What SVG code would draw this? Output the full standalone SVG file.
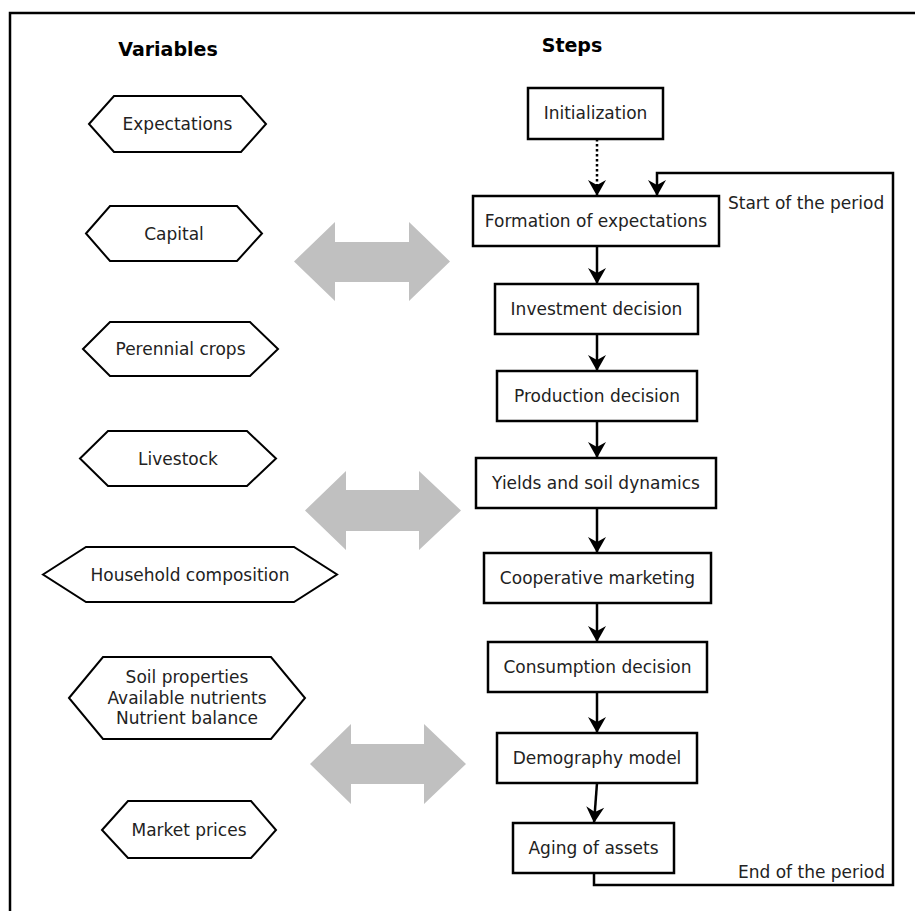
<svg xmlns="http://www.w3.org/2000/svg" width="915" height="911" viewBox="0 0 915 911">
<style>
  .hex { fill: #fff; stroke: #000; stroke-width: 2; }
  .box { fill: #fff; stroke: #000; stroke-width: 2.5; }
  .t { font-family: "DejaVu Sans", "Liberation Sans", sans-serif; font-size: 17px; fill: #222; text-anchor: middle; }
  .tl { font-family: "DejaVu Sans", "Liberation Sans", sans-serif; font-size: 17px; fill: #222; }
  .h { font-family: "DejaVu Sans", "Liberation Sans", sans-serif; font-size: 19px; font-weight: bold; fill: #000; text-anchor: middle; }
  .con { fill: none; stroke: #000; stroke-width: 2.5; }
  .big { fill: #c0c0c0; }
</style>
<defs>
  <marker id="ah" markerUnits="userSpaceOnUse" markerWidth="20" markerHeight="20" viewBox="-17 -10 18 20" refX="0" refY="0" orient="auto" overflow="visible">
    <path d="M0,0 L-16,-9 L-11,0 L-16,9 Z" fill="#000"/>
  </marker>
</defs>
<rect width="915" height="911" fill="#fff"/>
<path d="M10,911 V13 H915" fill="none" stroke="#000" stroke-width="2.5"/>

<g id="headings">
  <text class="h" x="168" y="56">Variables</text>
  <text class="h" x="572" y="52">Steps</text>
</g>

<g id="var-expectations">
  <polygon class="hex" points="89,124 114,96 241,96 266,124 241,152 114,152"/>
  <text class="t" x="177.5" y="130">Expectations</text>
</g>
<g id="var-capital">
  <polygon class="hex" points="86,233.5 110,206 237,206 262,233.5 237,261 110,261"/>
  <text class="t" x="174" y="239.5">Capital</text>
</g>
<g id="var-perennial">
  <polygon class="hex" points="83,349 110,322 250,322 278,349 250,376 110,376"/>
  <text class="t" x="180.5" y="355">Perennial crops</text>
</g>
<g id="var-livestock">
  <polygon class="hex" points="80,458.5 108,431 247,431 276,458.5 247,486 108,486"/>
  <text class="t" x="178" y="464.5">Livestock</text>
</g>
<g id="var-household">
  <polygon class="hex" points="43,574.5 86,547 294,547 337,574.5 294,602 86,602"/>
  <text class="t" x="190" y="580.5">Household composition</text>
</g>
<g id="var-soil">
  <polygon class="hex" points="69,698 103,657 271,657 305,698 271,739 103,739"/>
  <text class="t" x="187" y="683">Soil properties</text>
  <text class="t" x="187" y="704">Available nutrients</text>
  <text class="t" x="187" y="724">Nutrient balance</text>
</g>
<g id="var-market">
  <polygon class="hex" points="102,830 128,801 251,801 276,830 251,858 128,858"/>
  <text class="t" x="189" y="836">Market prices</text>
</g>

<g id="double-arrows">
  <polygon class="big" points="294,261.5 335,222 335,242 409,242 409,222 450,261.5 409,301 409,282 335,282 335,301"/>
  <polygon class="big" points="305,510.5 346,471 346,490 419,490 419,471 461,510.5 419,550 419,531 346,531 346,550"/>
  <polygon class="big" points="310,764 351,724 351,744 424,744 424,724 466,764 424,804 424,784 351,784 351,804"/>
</g>

<g id="connectors">
  <path class="con" d="M597,139 V196" stroke-dasharray="2.5,2.5" marker-end="url(#ah)"/>
  <path class="con" d="M594,873 V885 H893 V173 H657 V196" marker-end="url(#ah)"/>
  <path class="con" d="M597,246 V284" marker-end="url(#ah)"/>
  <path class="con" d="M597,334 V371" marker-end="url(#ah)"/>
  <path class="con" d="M597,421 V458" marker-end="url(#ah)"/>
  <path class="con" d="M597,508 V553" marker-end="url(#ah)"/>
  <path class="con" d="M597,603 V642" marker-end="url(#ah)"/>
  <path class="con" d="M597,692 V733" marker-end="url(#ah)"/>
  <path class="con" d="M597,783 L594,823" marker-end="url(#ah)"/>
  <text class="tl" x="728" y="209">Start of the period</text>
  <text class="tl" x="738" y="878">End of the period</text>
</g>

<g id="step-init">
  <rect class="box" x="528" y="88" width="135" height="51"/>
  <text class="t" x="595.5" y="119">Initialization</text>
</g>
<g id="step-formation">
  <rect class="box" x="473" y="196" width="246" height="50"/>
  <text class="t" x="596" y="227">Formation of expectations</text>
</g>
<g id="step-investment">
  <rect class="box" x="495" y="284" width="203" height="50"/>
  <text class="t" x="596.5" y="315">Investment decision</text>
</g>
<g id="step-production">
  <rect class="box" x="497" y="371" width="200" height="50"/>
  <text class="t" x="597" y="402">Production decision</text>
</g>
<g id="step-yields">
  <rect class="box" x="476" y="458" width="240" height="50"/>
  <text class="t" x="596" y="489">Yields and soil dynamics</text>
</g>
<g id="step-cooperative">
  <rect class="box" x="484" y="553" width="227" height="50"/>
  <text class="t" x="597.5" y="584">Cooperative marketing</text>
</g>
<g id="step-consumption">
  <rect class="box" x="488" y="642" width="219" height="50"/>
  <text class="t" x="597.5" y="673">Consumption decision</text>
</g>
<g id="step-demography">
  <rect class="box" x="497" y="733" width="200" height="50"/>
  <text class="t" x="597" y="764">Demography model</text>
</g>
<g id="step-aging">
  <rect class="box" x="513" y="823" width="161" height="50"/>
  <text class="t" x="593.5" y="854">Aging of assets</text>
</g>
</svg>
